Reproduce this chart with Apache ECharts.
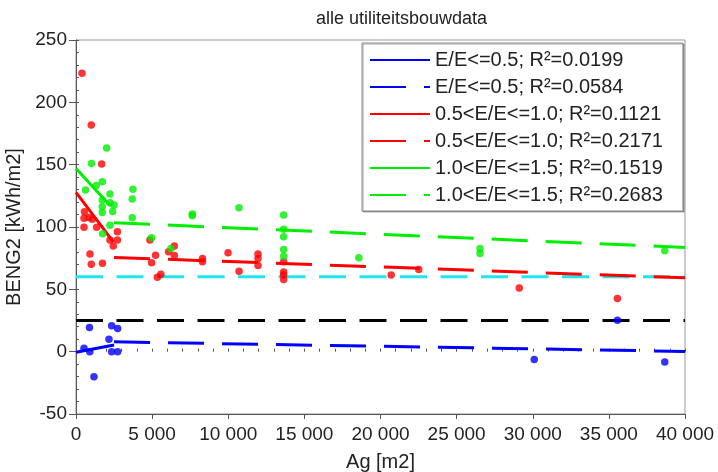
<!DOCTYPE html>
<html>
<head>
<meta charset="utf-8">
<title>alle utiliteitsbouwdata</title>
<script src="https://cdn.jsdelivr.net/npm/echarts@6/dist/echarts.min.js"></script>
<style>
html, body { margin: 0; padding: 0; background: #fff; }
#chart { width: 718px; height: 472px; }
</style>
</head>
<body>
<div id="chart"></div>
<script>
// measured points [Ag, BENG2]
var bluePts = [
	[885, 19.3], [2341, 20.7], [2734, 18.6], [2164, 10.0], [525, 2.8],
	[905, 0], [2341, 0], [2734, 0], [1180, -20.2],
	[30098, -6.3], [35561, 25.3], [38669, -8.2]
];
var redPts = [
	[393, 223.3], [1003, 181.9], [1685, 150.5], [557, 112.2], [525, 107.1],
	[852, 107.7], [1069, 106.3], [525, 99.7], [1357, 99.7], [2721, 96.1],
	[2230, 89.5], [2721, 89.5], [2446, 84.7], [918, 78.3], [1003, 70.2],
	[1738, 71.0], [4852, 89.5], [5226, 77.4], [4964, 71.3], [5344, 59.6],
	[5574, 62.0], [6079, 80.1], [6459, 84.7], [6459, 77.2], [8308, 74.8],
	[8308, 72.1], [9987, 79.3], [10708, 64.6], [11954, 78.3], [11954, 74.8],
	[11954, 69.2], [13639, 72.1], [13639, 64.0], [13639, 61.4], [13639, 57.9],
	[20702, 61.4], [22511, 66.0], [29115, 51.0], [35561, 42.7]
];
var greenPts = [
	[2013, 163.3], [1016, 151.0], [1725, 136.3], [1331, 133.2], [623, 129.6],
	[3738, 130.2], [2230, 126.4], [1725, 121.6], [3692, 122.4], [2230, 119.4],
	[2492, 117.6], [1725, 116.2], [1725, 111.7], [2407, 112.5], [3692, 107.4],
	[2230, 101.5], [1751, 94.5], [4964, 91.3], [6230, 82.8], [7639, 110.4],
	[7639, 109.0], [10702, 115.4], [13639, 109.7], [13639, 98.1], [13639, 92.1],
	[13639, 82.0], [13639, 76.6], [18577, 75.3], [26536, 82.8], [26536, 78.8],
	[38669, 80.9]
];

// trend lines (end points)
var blueSolid = [[0, -0.5], [2500, 5.3]];
var blueDash = [[2500, 7.9], [40000, 0.2]];
var redSolid = [[0, 127.8], [2450, 88]];
var redDash = [[2500, 75.6], [40000, 59.2]];
var greenSolid = [[0, 147], [2250, 117]];
var greenDash = [[2500, 103.4], [40000, 83.6]];
var cyanRef = [[0, 60], [40000, 60]];
var blackRef = [[0, 25], [40000, 25]];

var trendNames = [
	'E/E<=0.5; R²=0.0199',
	'E/E<=0.5; R²=0.0584',
	'0.5<E/E<=1.0; R²=0.1121',
	'0.5<E/E<=1.0; R²=0.2171',
	'1.0<E/E<=1.5; R²=0.1519',
	'1.0<E/E<=1.5; R²=0.2683'
];

var FONT = "'Liberation Sans', Arial, sans-serif";
var LONG_DASH = [36, 18];
var REF_DASH = [27, 13.5];

function fmtThousands(v) {
	return String(v).replace(/\B(?=(\d{3})+(?!\d))/g, ' ');
}

function trendLine(name, data, color, dash) {
	return {
		name: name,
		type: 'line',
		data: data,
		symbol: 'none',
		silent: true,
		z: 2,
		itemStyle: { color: color },
		lineStyle: { color: color, width: 3, type: dash || 'solid' }
	};
}

function refLine(data, color) {
	return {
		type: 'line',
		data: data,
		symbol: 'none',
		silent: true,
		z: 1,
		lineStyle: { color: color, width: 3, type: REF_DASH }
	};
}

function dots(data, color) {
	return {
		type: 'scatter',
		data: data,
		symbol: 'circle',
		symbolSize: 7.5,
		z: 3,
		itemStyle: { color: color }
	};
}

var chart = echarts.init(document.getElementById('chart'));
chart.setOption({
	animation: false,
	backgroundColor: '#fff',
	textStyle: { fontFamily: FONT },
	title: {
		text: 'alle utiliteitsbouwdata',
		left: 311,
		top: 5,
		textStyle: { fontFamily: FONT, fontSize: 18, fontWeight: 'normal', color: '#222' }
	},
	grid: {
		left: 76, right: 33, top: 40, bottom: 58,
		outerBoundsMode: 'none',
		containLabel: false,
		show: true,
		borderColor: '#999',
		borderWidth: 1,
		backgroundColor: '#fff'
	},
	legend: {
		data: trendNames,
		orient: 'vertical',
		left: 362,
		top: 43,
		padding: [7, 20, 6, 7],
		itemWidth: 60,
		itemHeight: 14,
		itemGap: 7,
		itemStyle: { opacity: 0 },
		backgroundColor: '#fff',
		borderColor: '#888',
		borderWidth: 1,
		shadowColor: 'rgba(0,0,0,0.35)',
		shadowOffsetX: 1,
		shadowOffsetY: 1,
		textStyle: { fontFamily: FONT, fontSize: 20, color: '#222', lineHeight: 20 }
	},
	xAxis: [{
		type: 'value',
		min: 0,
		max: 40000,
		interval: 5000,
		name: 'Ag [m2]',
		nameLocation: 'middle',
		nameGap: 38,
		nameTextStyle: { fontFamily: FONT, fontSize: 20, color: '#222' },
		axisLine: { show: true, onZero: false, lineStyle: { color: '#555', width: 1 } },
		axisTick: { show: true, inside: false, length: 5, lineStyle: { color: '#555' } },
		axisLabel: { fontFamily: FONT, fontSize: 19, color: '#222', margin: 11, formatter: fmtThousands },
		splitLine: { show: false }
	}, {
		type: 'value',
		min: 0,
		max: 40000,
		interval: 1000,
		position: 'bottom',
		axisLine: { show: false },
		axisTick: { show: true, inside: true, length: 3, lineStyle: { color: '#555' } },
		axisLabel: { show: false },
		splitLine: { show: false }
	}],
	yAxis: [{
		type: 'value',
		min: -50,
		max: 250,
		interval: 50,
		name: 'BENG2 [kWh/m2]',
		nameLocation: 'middle',
		nameGap: 41,
		nameTextStyle: { fontFamily: FONT, fontSize: 20, color: '#222' },
		axisLine: { show: true, onZero: false, lineStyle: { color: '#555', width: 1 } },
		axisTick: { show: true, inside: false, length: 7, lineStyle: { color: '#555' } },
		axisLabel: { fontFamily: FONT, fontSize: 19, color: '#222', margin: 9 },
		splitLine: { show: false }
	}, {
		type: 'value',
		min: -50,
		max: 250,
		interval: 10,
		position: 'left',
		axisLine: { show: false },
		axisTick: { show: true, inside: true, length: 3, lineStyle: { color: '#555' } },
		axisLabel: { show: false },
		splitLine: { show: false }
	}],
	series: [
		refLine(cyanRef, '#1fe6ee'),
		refLine(blackRef, '#000'),
		trendLine(trendNames[0], blueSolid, '#0000ff'),
		trendLine(trendNames[1], blueDash, '#0000ff', LONG_DASH),
		trendLine(trendNames[2], redSolid, '#ff0000'),
		trendLine(trendNames[3], redDash, '#ff0000', LONG_DASH),
		trendLine(trendNames[4], greenSolid, '#00ee00'),
		trendLine(trendNames[5], greenDash, '#00ee00', LONG_DASH),
		dots(bluePts, '#0000ff'),
		dots(redPts, '#ff0000'),
		dots(greenPts, '#00ee00')
	]
});
</script>
</body>
</html>
